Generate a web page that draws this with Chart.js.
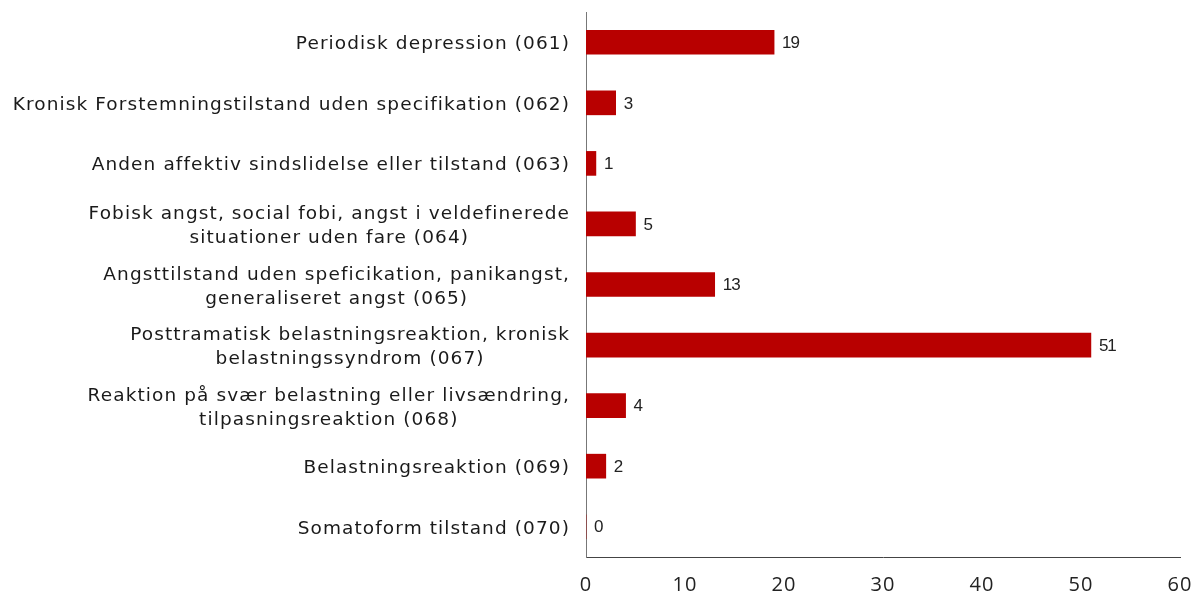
<!DOCTYPE html>
<html>
<head>
<meta charset="utf-8">
<script src="https://cdn.jsdelivr.net/npm/chart.js@4"></script>
<style>
    html, body { margin: 0; padding: 0; background: #fff; }
    #wrap { width: 1196px; height: 597px; }
</style>
</head>
<body>
<div id="wrap"><canvas id="chart" width="1196" height="597"></canvas></div>
<script>
const categories = [
    'Periodisk depression (061)',
    'Kronisk Forstemningstilstand uden specifikation (062)',
    'Anden affektiv sindslidelse eller tilstand (063)',
    ['Fobisk angst, social fobi, angst i veldefinerede', 'situationer uden fare (064)'],
    ['Angsttilstand uden speficikation, panikangst,', 'generaliseret angst (065)'],
    ['Posttramatisk belastningsreaktion, kronisk', 'belastningssyndrom (067)'],
    ['Reaktion på svær belastning eller livsændring,', 'tilpasningsreaktion (068)'],
    'Belastningsreaktion (069)',
    'Somatoform tilstand (070)'
];
const values = [19, 3, 1, 5, 13, 51, 4, 2, 0];
const xTicks = [0, 10, 20, 30, 40, 50, 60];

const LABEL_FONT = "'DejaVu Sans', Verdana, sans-serif";
const TICK_FONT = "'Open Sans', sans-serif";
const VALUE_FONT = "'Liberation Sans', Arial, sans-serif";

// category labels: block right-aligned to the axis, lines centred inside the block
const categoryLabels = {
    id: 'categoryLabels',
    afterDraw(chart) {
        const ctx = chart.ctx;
        const yScale = chart.scales.y;
        const right = yScale.right - 16;
        const lineH = 24;
        ctx.save();
        ctx.font = '18.5px ' + LABEL_FONT;
        ctx.letterSpacing = '1.1px';
        ctx.fillStyle = '#1a1a1a';
        ctx.textBaseline = 'alphabetic';
        ctx.textAlign = 'center';
        categories.forEach((label, i) => {
            const lines = Array.isArray(label) ? label : [label];
            const y = yScale.getPixelForValue(i) + 7;
            const maxW = Math.max(...lines.map(l => ctx.measureText(l).width));
            const cx = right - maxW / 2;
            const y0 = y - (lines.length - 1) * lineH / 2;
            lines.forEach((l, k) => ctx.fillText(l, cx, y0 + k * lineH));
        });
        ctx.restore();
    }
};

const valueLabels = {
    id: 'valueLabels',
    afterDatasetsDraw(chart) {
        const ctx = chart.ctx;
        const meta = chart.getDatasetMeta(0);
        ctx.save();
        ctx.font = '17px ' + VALUE_FONT;
        ctx.letterSpacing = '-1px';
        ctx.fillStyle = '#222';
        ctx.textBaseline = 'middle';
        ctx.textAlign = 'left';
        meta.data.forEach((bar, i) => {
            ctx.fillText(String(values[i]), bar.x + 8, bar.y + 1);
        });
        ctx.restore();
    }
};

// a little extra spacing for the x tick labels
const tickSpacing = {
    id: 'tickSpacing',
    beforeDraw(chart) { chart.ctx.letterSpacing = '1px'; },
    afterDraw(chart) { chart.ctx.letterSpacing = '0px'; }
};

new Chart(document.getElementById('chart').getContext('2d'), {
    type: 'bar',
    data: {
        labels: categories,
        datasets: [{
            data: values,
            backgroundColor: '#B80000',
            barThickness: 24
        }]
    },
    options: {
        indexAxis: 'y',
        responsive: false,
        animation: false,
        layout: { padding: { top: 12, right: 16, bottom: 0, left: 0 } },
        plugins: {
            legend: { display: false },
            tooltip: { enabled: false }
        },
        scales: {
            x: {
                min: 0,
                max: 60,
                afterBuildTicks: (axis) => { axis.ticks = xTicks.map(v => ({ value: v })); },
                afterFit: (axis) => {
                    axis.height = 40;
                    axis.paddingLeft = 0;
                    axis.paddingRight = 0;
                },
                grid: { display: false, drawTicks: false },
                border: { display: true, color: '#444', width: 1 },
                ticks: {
                    color: '#222',
                    padding: 16,
                    font: { family: TICK_FONT, size: 20 }
                }
            },
            y: {
                afterFit: (axis) => {
                    axis.width = 586;
                    axis.paddingTop = 0;
                    axis.paddingBottom = 0;
                },
                grid: { display: false, drawTicks: false },
                border: { display: true, color: '#777', width: 1 },
                ticks: { display: false }
            }
        }
    },
    plugins: [tickSpacing, valueLabels, categoryLabels]
});
</script>
</body>
</html>
